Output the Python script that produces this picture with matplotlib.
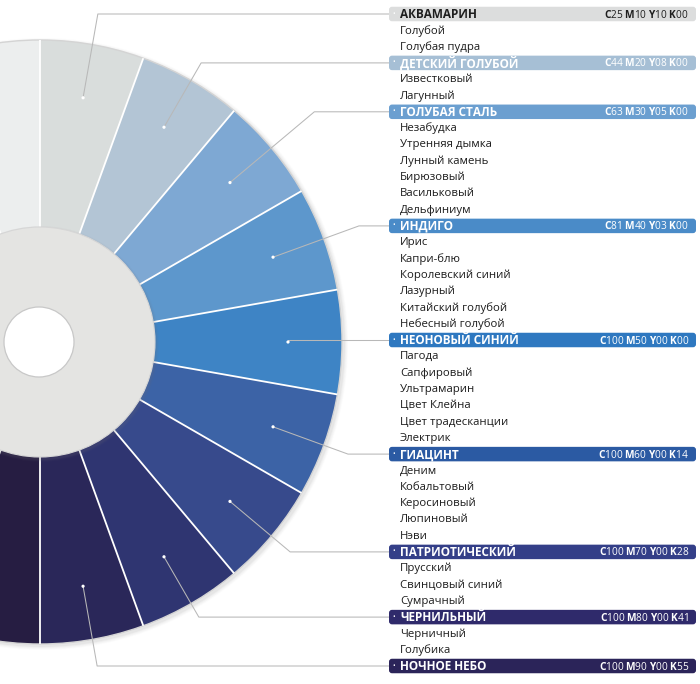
import numpy as np
import matplotlib
matplotlib.use("Agg")
import matplotlib.pyplot as plt
from matplotlib.patches import Wedge, Circle, FancyBboxPatch

plt.rcParams['font.family'] = ['Open Sans', 'DejaVu Sans']
plt.rcParams['mathtext.fontset'] = 'custom'
plt.rcParams['mathtext.rm'] = 'Open Sans'
plt.rcParams['mathtext.bf'] = 'Open Sans:bold'

# colour groups, top to bottom
names = ["АКВАМАРИН", "ДЕТСКИЙ ГОЛУБОЙ", "ГОЛУБАЯ СТАЛЬ", "ИНДИГО", "НЕОНОВЫЙ СИНИЙ",
         "ГИАЦИНТ", "ПАТРИОТИЧЕСКИЙ", "ЧЕРНИЛЬНЫЙ", "НОЧНОЕ НЕБО"]
cyan = [25, 44, 63, 81, 100, 100, 100, 100, 100]
magenta = [10, 20, 30, 40, 50, 60, 70, 80, 90]
yellow = [10, 8, 5, 3, 0, 0, 0, 0, 0]
black = [0, 0, 0, 0, 0, 14, 28, 41, 55]
shades = [
    ["Голубой", "Голубая пудра"],
    ["Известковый", "Лагунный"],
    ["Незабудка", "Утренняя дымка", "Лунный камень", "Бирюзовый", "Васильковый", "Дельфиниум"],
    ["Ирис", "Капри-блю", "Королевский синий", "Лазурный", "Китайский голубой", "Небесный голубой"],
    ["Пагода", "Сапфировый", "Ультрамарин", "Цвет Клейна", "Цвет традесканции", "Электрик"],
    ["Деним", "Кобальтовый", "Керосиновый", "Люпиновый", "Нэви"],
    ["Прусский", "Свинцовый синий", "Сумрачный"],
    ["Черничный", "Голубика"],
    [],
]
wheel_colors = ["#d9dddc", "#b3c5d5", "#7ea8d3", "#5d97cc", "#3e84c5",
                "#3c63a6", "#374a8c", "#2f3571", "#2a2759"]
band_colors = ["#dcdddd", "#a6bfd5", "#6b9fd0", "#4a8bc8", "#2e78c0",
               "#2b5aa3", "#343f88", "#2f2a6b", "#2b2459"]
# segments that continue past the left edge
top_left_color = "#eceeee"
bottom_left_color = "#261d42"

fig = plt.figure(figsize=(7, 6.84), dpi=100)
ax = fig.add_axes([0, 0, 1, 1])
ax.set_xlim(0, 700)
ax.set_ylim(684, 0)
ax.axis('off')

cx, cy = 40, 342
R, r_hub, r_hole, r_dot = 302, 115, 35, 248
step = 20

# soft shadow under the wheel
for k, a in enumerate([0.09, 0.07, 0.05, 0.03]):
    ax.add_patch(Circle((cx + 2, cy + 2), R + 1 + k, fc="#9a9a9a", ec="none", alpha=a, zorder=1))

# wedges (y axis is flipped, so data angle = -visual angle)
for i, col in enumerate(wheel_colors):
    ax.add_patch(Wedge((cx, cy), R, step * i - 90, step * i - 70, fc=col, ec="none", zorder=2))
ax.add_patch(Wedge((cx, cy), R, -110, -90, fc=top_left_color, ec="none", zorder=2))
ax.add_patch(Wedge((cx, cy), R, 90, 110, fc=bottom_left_color, ec="none", zorder=2))
ax.add_patch(Circle((cx, cy), R, fc="none", ec="#d4d4d4", lw=1.0, zorder=3))

# white separators
for a in np.arange(-110, 111, step):
    t = np.radians(a)
    ax.plot([cx + r_hub * np.cos(t), cx + R * np.cos(t)],
            [cy - r_hub * np.sin(t), cy - R * np.sin(t)],
            color="white", lw=1.3, zorder=3, solid_capstyle='butt')

# hub and hole
for k, a in enumerate([0.10, 0.07, 0.04]):
    ax.add_patch(Circle((cx + 1, cy + 2), r_hub + 1 + k, fc="#70707a", ec="none", alpha=a, zorder=4))
ax.add_patch(Circle((cx, cy), r_hub, fc="#e4e4e2", ec="#d6d6d6", lw=0.8, zorder=5))
ax.add_patch(Circle((cx - 1, cy), r_hole, fc="white", ec="#c8c8c8", lw=0.9, zorder=6))

# label column
row0, row_h = 14, 16.3
band_x0, band_x1, band_h = 389, 696, 14.5
name_x = 400

row = 0
for i, name in enumerate(names):
    y = row0 + row * row_h
    fg = "#1e1e1e" if i == 0 else "white"

    ax.add_patch(FancyBboxPatch((band_x0, y - band_h / 2), band_x1 - band_x0, band_h,
                                boxstyle="round,pad=0,rounding_size=3",
                                fc=band_colors[i], ec="none", zorder=5))
    ax.text(band_x0 + 4.5, y, "•", color="white", fontsize=5, ha='center', va='center', zorder=6)
    ax.text(name_x, y + 0.5, name, color=fg, fontsize=8.5, fontweight='bold',
            ha='left', va='center', zorder=6)

    code = " ".join(rf"$\mathbf{{{l}}}${v:02d}"
                    for l, v in zip("CMYK", [cyan[i], magenta[i], yellow[i], black[i]]))
    ax.text(689, y + 0.5, code, color=fg, fontsize=7.3, ha='right', va='center', zorder=6)

    # leader line from the dot in the wedge
    a = np.radians(80 - step * i)
    dx, dy = cx + r_dot * np.cos(a), cy - r_dot * np.sin(a)
    if abs(np.sin(a)) < 0.05:
        ex = dx
    else:
        ex = dx + (dy - y) / np.sin(a) * np.cos(a)
    ax.plot([dx, ex, band_x0], [dy, y, y], color="#b8b8b8", lw=0.75, zorder=4.5)
    ax.add_patch(Circle((dx, dy), 1.6, fc="white", ec="none", zorder=7))
    row += 1

    for s in shades[i]:
        y = row0 + row * row_h
        ax.text(name_x, y + 0.5, s, color="#1c1c1c", fontsize=8.2, ha='left', va='center', zorder=6)
        row += 1

fig.savefig("out.png", dpi=100, facecolor="white")
